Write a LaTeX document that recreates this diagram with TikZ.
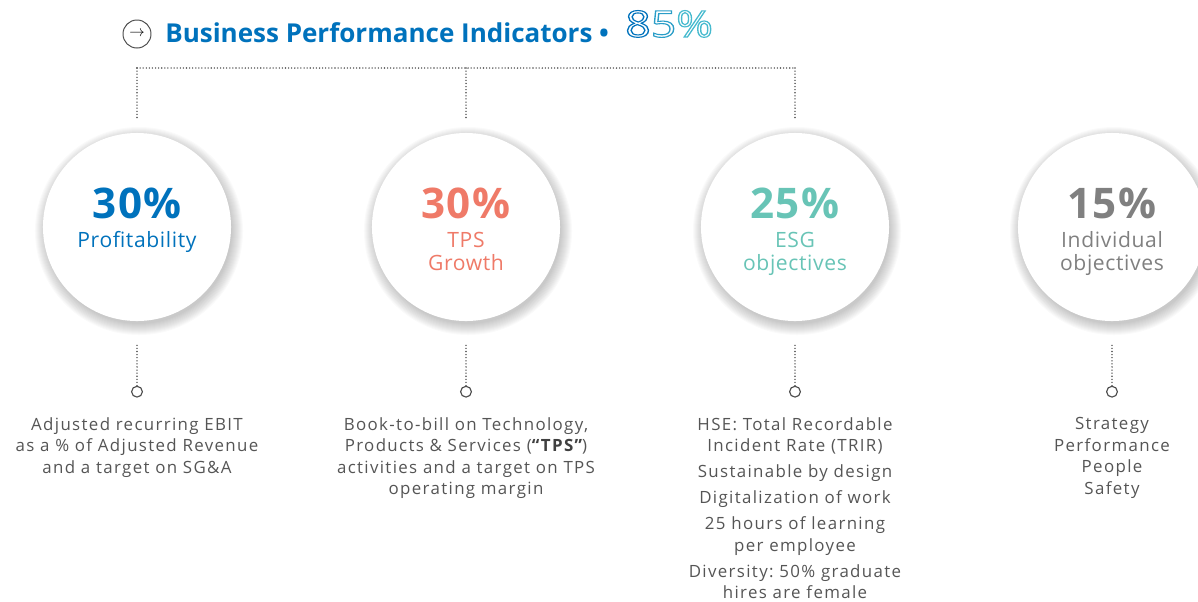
\documentclass[tikz,border=0pt]{standalone}
\usepackage{fontspec}
\setmainfont{Open Sans}
\newfontfamily\descfont{Open Sans}[LetterSpace=8]
\newfontfamily\lblfont{Open Sans}[LetterSpace=3]
\usetikzlibrary{positioning}
\frenchspacing

\definecolor{bpiblue}{RGB}{0,114,188}
\definecolor{bpicoral}{RGB}{239,122,104}
\definecolor{bpiteal}{RGB}{104,196,182}
\definecolor{bpicyan}{RGB}{70,186,206}
\definecolor{bpigrey}{RGB}{128,128,128}
\definecolor{bpitext}{RGB}{85,85,85}

\newcommand\kpipct[1]{{\fontsize{30}{30}\selectfont\bfseries #1}\\[4.2pt]}
\newcommand\outlined[1]{\special{pdf:code 1 Tr 0.8 w}#1\special{pdf:code 0 Tr}}

\begin{document}
\begin{tikzpicture}[
  x=0.025cm, y=-0.025cm, line cap=round,
  dots/.style={draw=black!70, line width=1.1pt, dash pattern=on 0pt off 2.2pt},
  kpi/.style={circle, fill=white, minimum size=4.7cm, inner sep=0pt},
  kpitxt/.style={align=center, inner sep=0pt, font=\lblfont\fontsize{15}{16.4}\selectfont},
  pin/.style={circle, draw=black!70, line width=0.8pt, fill=white,
              minimum size=0.27cm, inner sep=0pt},
  desc/.style={align=center, inner sep=0pt, text=bpitext,
               font=\descfont\fontsize{12}{15.3}\selectfont\frenchspacing}
]
  \clip (0,0) rectangle (1198,601);

  % ── Title ───────────────────────────────────────────────────────────────
  \node[circle, draw=black!70, line width=0.7pt, minimum size=0.7cm,
        inner sep=0pt, font=\fontsize{11}{11}\selectfont] (arr) at (137,34) {$\rightarrow$};
  \node[anchor=base west, inner sep=0pt, text=bpiblue,
        font=\fontsize{18.5}{20}\selectfont\bfseries] (ttl) at (165,42)
      {Business Performance Indicators \textbullet};
  \node[anchor=base west, inner sep=0pt, font=\fontsize{26}{26}\selectfont] (tot) at (625,37)
      {\scalebox{1.22}[1]{\outlined{\color{bpiblue}8\color{bpicyan!60!bpiblue}5\color{bpicyan}\%}}};

  % ── Circles (soft shadow first) ────────────────────────────────────────
  \foreach \cx in {137,466,795,1112}
    \foreach \k in {1,...,12}
      \fill[black, opacity=0.018] (\cx+2,231) circle[radius={(92+\k)*0.7113pt}];

  \node[kpi] (c1) at (137,227) {};
  \node[kpi] (c2) at (466,227) {};
  \node[kpi] (c3) at (795,227) {};
  \node[kpi] (c4) at (1112,227) {};

  \node[kpitxt, text=bpiblue, below=1.375cm of c1.north] (k1)
      {\kpipct{30\%}Profitability};
  \node[kpitxt, text=bpicoral, below=1.375cm of c2.north] (k2)
      {\kpipct{30\%}TPS\\Growth};
  \node[kpitxt, text=bpiteal, below=1.375cm of c3.north] (k3)
      {\kpipct{25\%}ESG\\objectives};
  \node[kpitxt, text=bpigrey, below=1.375cm of c4.north] (k4)
      {\kpipct{15\%}Individual\\objectives};

  % ── Top bracket ────────────────────────────────────────────────────────
  \coordinate (j1) at (137,68);
  \coordinate (j2) at (466,68);
  \coordinate (j3) at (795,68);
  \draw[dots] (j1) -- (j3);
  \foreach \i in {1,2,3}
    \draw[dots, shorten >=0.375cm] (j\i) -- (c\i.north);

  % ── Pins and descriptions ──────────────────────────────────────────────
  \foreach \i in {1,...,4} {
    \node[pin, below=1.61cm of c\i.south] (p\i) {};
    \draw[dots, shorten <=0.6cm] (c\i.south) -- (p\i.north);
  }

  \node[desc, below=0.49cm of p1] (d1)
      {Adjusted recurring EBIT\\as a \% of Adjusted Revenue\\and a target on SG\&A};
  \node[desc, below=0.49cm of p2] (d2)
      {Book-to-bill on Technology,\\Products \& Services ({\color{black!75}\bfseries “TPS”})\\
       activities and a target on TPS\\operating margin};
  \node[desc, below=0.49cm of p3] (d3)
      {HSE: Total Recordable\\Incident Rate (TRIR)\\[3.2pt]
       Sustainable by design\\[3.2pt]
       Digitalization of work\\[3.2pt]
       25 hours of learning\\per employee\\[3.2pt]
       Diversity: 50\% graduate\\hires are female};
  \node[desc, below=0.49cm of p4] (d4)
      {Strategy\\Performance\\People\\Safety};

\end{tikzpicture}
\end{document}
